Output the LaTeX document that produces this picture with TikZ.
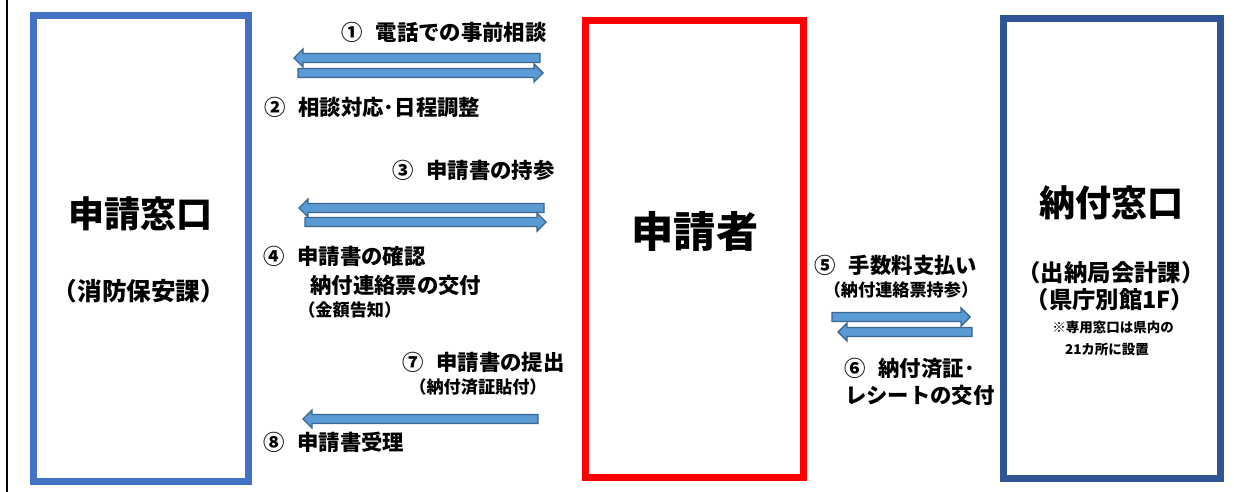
\documentclass[tikz,border=0pt]{standalone}
\usepackage{fontspec}
\setmainfont{Noto Sans CJK JP}
\usepackage{tikz}
\usetikzlibrary{calc}
\definecolor{madoblue}{HTML}{4472C4}
\definecolor{nofublue}{HTML}{2F5597}
\definecolor{arrowfill}{HTML}{5B9BD5}
\definecolor{arrowline}{HTML}{3A6690}
\newcommand{\cell}[5]{ \draw[line width=0.175cm, draw=#5] ( #1 , #2 ) rectangle ( #3 , #4 );}
\newcommand{\lablnode}[5]{\node[anchor=#2, inner sep=0pt, font=\bfseries\fontsize{15.2}{18}\selectfont] (#1) at ( #3 , #4 ) {#5};}
\newcommand{\lablsmall}[5]{\node[anchor=#2, inner sep=0pt, font=\bfseries\fontsize{12.2}{14}\selectfont] (#1) at ( #3 , #4 ) {#5};}
\newcommand{\blockarrow}[3]{ \draw[fill=arrowfill, draw=arrowline, line width=0.035cm, line join=miter]
  ($(#1)+(0,-4.5)$) -- ($(#2)+(-9*#3,-4.5)$) -- ($(#2)+(-9*#3,-9)$) -- (#2)
  -- ($(#2)+(-9*#3,9)$) -- ($(#2)+(-9*#3,4.5)$) -- ($(#1)+(0,4.5)$) -- cycle;}

\begin{document}
\begin{tikzpicture}[x=0.025cm, y=-0.025cm]
        \useasboundingbox (0,0) rectangle (1234,492);

        % page edge
        \draw[line width=0.03cm] (7,0) -- (7,492);

        % boxes
        \cell{33.5}{15.5}{248.5}{481.5}{madoblue}
        \cell{585.5}{20.5}{803.5}{477.5}{red}
        \cell{1003.5}{18.5}{1220.5}{478.5}{nofublue}

        % box texts
        \node[font=\bfseries\fontsize{25.6}{30}\selectfont, inner sep=0pt] (mado) at (140,214) {申請窓口};
        \node[font=\bfseries\fontsize{17.5}{20}\selectfont, inner sep=0pt] (madosub) at (139,291) {（消防保安課）};
        \node[font=\bfseries\fontsize{30}{36}\selectfont, inner sep=0pt] (shinsei) at (695,231) {申請者};
        \node[font=\bfseries\fontsize{25.6}{30}\selectfont, inner sep=0pt] (nofu) at (1111,203) {納付窓口};
        \node[font=\bfseries\fontsize{16.6}{19}\selectfont, inner sep=0pt] (nofusub) at (1111,273) {（出納局会計課）};
        \node[font=\bfseries\fontsize{16.6}{19}\selectfont, inner sep=0pt] (nofuplace) at (1110,300) {（県庁別館1F）};
        \node[font=\bfseries\fontsize{9.6}{11}\selectfont, inner sep=0pt] (nofunote) at (1113,327) {※専用窓口は県内の};
        \node[font=\bfseries\fontsize{9.6}{11}\selectfont, inner sep=0pt] (nofunoteb) at (1107,349) {21カ所に設置};

        % labels left
        \lablnode{step1}{east}{547}{32}{①\hspace{0.6em}電話での事前相談}
        \lablnode{step2}{west}{264}{107}{②\hspace{0.6em}相談対応･日程調整}
        \lablnode{step3}{east}{555}{170}{③\hspace{0.6em}申請書の持参}
        \lablnode{step4}{west}{263}{256}{④\hspace{0.6em}申請書の確認}
        \lablnode{step4b}{west}{310}{285}{納付連絡票の交付}
        \lablsmall{step4c}{west}{298}{310}{（金額告知）}
        \lablnode{step7}{east}{565}{362}{⑦\hspace{0.6em}申請書の提出}
        \lablsmall{step7b}{center}{478}{387}{（納付済証貼付）}
        \lablnode{step8}{west}{263}{442}{⑧\hspace{0.6em}申請書受理}

        % labels right
        \lablnode{step5}{center}{896}{265}{⑤\hspace{0.6em}手数料支払い}
        \lablsmall{step5b}{center}{901}{290}{（納付連絡票持参）}
        \lablnode{step6}{east}{975}{368}{⑥\hspace{0.6em}納付済証･}
        \lablnode{step6b}{east}{995}{395}{レシートの交付}

        % arrow ends
        \coordinate (a1s) at (540,58);  \coordinate (a1e) at (294,58);
        \coordinate (a2s) at (298,73);  \coordinate (a2e) at (543,73);
        \coordinate (a3s) at (544,208); \coordinate (a3e) at (299,208);
        \coordinate (a4s) at (305,222); \coordinate (a4e) at (546,222);
        \coordinate (a7s) at (538,419); \coordinate (a7e) at (303,419);
        \coordinate (a5s) at (832,317); \coordinate (a5e) at (970,317);
        \coordinate (a6s) at (972,332); \coordinate (a6e) at (838,332);

        % arrows
        \blockarrow{a1s}{a1e}{-1}
        \blockarrow{a2s}{a2e}{1}
        \blockarrow{a3s}{a3e}{-1}
        \blockarrow{a4s}{a4e}{1}
        \blockarrow{a7s}{a7e}{-1}
        \blockarrow{a5s}{a5e}{1}
        \blockarrow{a6s}{a6e}{-1}

    \end{tikzpicture}
\end{document}
